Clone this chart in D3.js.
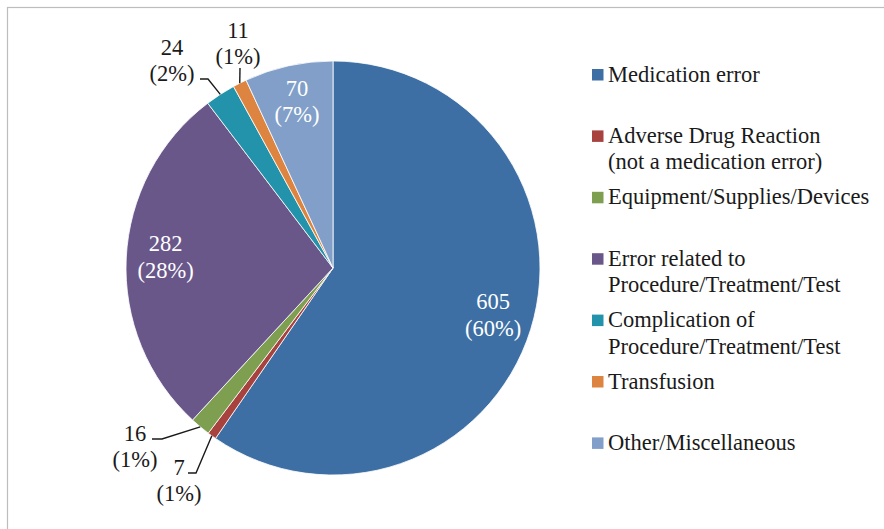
<!DOCTYPE html>
<html>
<head>
<meta charset="utf-8">
<script src="https://cdn.jsdelivr.net/npm/d3@7"></script>
<style>
  html, body { margin: 0; padding: 0; background: #fff; }
  svg { display: block; }
</style>
</head>
<body>
<svg id="chart" width="884" height="529"></svg>
<script>
// Incident categories, in drawing order (clockwise from 12 o'clock)
const categories = [
  "Medication error",
  "Adverse Drug Reaction\n(not a medication error)",
  "Equipment/Supplies/Devices",
  "Error related to\nProcedure/Treatment/Test",
  "Complication of\nProcedure/Treatment/Test",
  "Transfusion",
  "Other/Miscellaneous"
];
const counts = [605, 7, 16, 282, 24, 11, 70];
const percentLabels = ["60%", "1%", "1%", "28%", "2%", "1%", "7%"];
const colors = ["#3D6FA4", "#A8423F", "#7E9F4F", "#69578A", "#2392AB", "#DD8540", "#819FC8"];

// Which slices carry their label outside on a leader line
const outsideLabels = {
  1: { knee: [196, 473], end: [188, 473], text: [179, 474.5] },
  2: { knee: [162, 439], end: [152, 439], text: [135, 440.5] },
  4: { knee: [208, 79],  end: [200, 79],  text: [172, 54.5] },
  5: { knee: [240, 68],  end: [240, 68],  text: [238, 37.5] }
};

const W = 884, H = 529;
const cx = 333, cy = 268, R = 207;
const fontSize = 22.5, lineGap = 26.5;
const serif = '"Liberation Serif", serif';

const svg = d3.select("#chart");

// chart frame
svg.append("rect")
  .attr("x", 7.5).attr("y", 7.5)
  .attr("width", W + 20).attr("height", H + 20)
  .attr("fill", "#fff")
  .attr("stroke", "#BDBDBD")
  .attr("stroke-width", 1.2);

const pie = d3.pie().sort(null).value(d => d.value);
const data = categories.map((c, i) => ({ name: c, value: counts[i], pct: percentLabels[i], i }));
const arcs = pie(data);

const arc = d3.arc().innerRadius(0).outerRadius(R);
const labelArc = d3.arc().innerRadius(R * 0.81).outerRadius(R * 0.81);
const edgeArc = d3.arc().innerRadius(R).outerRadius(R);

const g = svg.append("g").attr("transform", `translate(${cx},${cy})`);

g.selectAll("path.slice")
  .data(arcs)
  .join("path")
  .attr("class", "slice")
  .attr("d", arc)
  .attr("fill", d => colors[d.data.i])
  .attr("stroke", "#fff")
  .attr("stroke-width", 0.8);

function addText(parent, x, y, lines, fill, anchor) {
  const t = parent.append("text")
    .attr("text-anchor", anchor)
    .attr("fill", fill)
    .style("font-family", serif)
    .attr("font-size", fontSize);
  lines.forEach((line, k) => {
    t.append("tspan").attr("x", x).attr("y", y + k * lineGap).text(line);
  });
  return t;
}

// inside labels
arcs.filter(d => !(d.data.i in outsideLabels)).forEach(d => {
  const [x, y] = labelArc.centroid(d);
  addText(g, x, y - lineGap / 2 + 4.5, [d.data.value, `(${d.data.pct})`], "#fff", "middle");
});

// outside labels with leader lines
arcs.filter(d => d.data.i in outsideLabels).forEach(d => {
  const lay = outsideLabels[d.data.i];
  const [ex, ey] = edgeArc.centroid(d);
  const pts = [[cx + ex, cy + ey], lay.knee, lay.end];
  svg.append("path")
    .attr("d", d3.line()(pts))
    .attr("fill", "none")
    .attr("stroke", "#1a1a1a")
    .attr("stroke-width", 1.4);
  addText(svg, lay.text[0], lay.text[1], [d.data.value, `(${d.data.pct})`], "#1a1a1a", "middle");
});

// legend
const legendX = 592, legendTop = 81.5, legendStep = 61.4;
const legend = svg.append("g");
categories.forEach((c, i) => {
  const base = legendTop + i * legendStep;
  legend.append("rect")
    .attr("x", legendX).attr("y", base - 12.5)
    .attr("width", 11.5).attr("height", 11.5)
    .attr("fill", colors[i]);
  addText(legend, legendX + 16, base, c.split("\n"), "#1a1a1a", "start");
});
</script>
</body>
</html>
